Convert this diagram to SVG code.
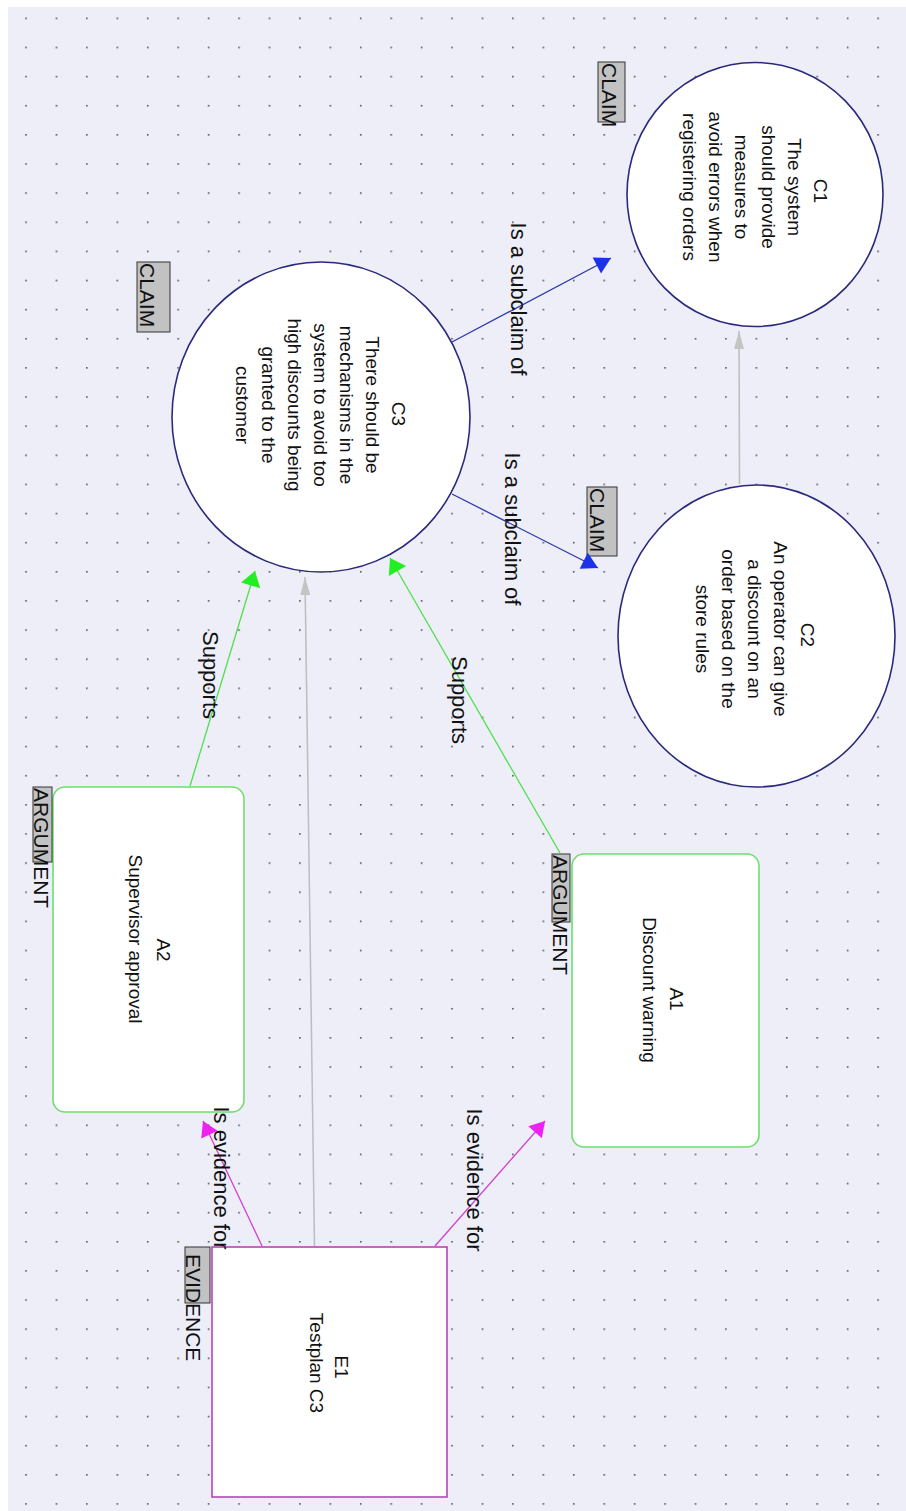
<svg xmlns="http://www.w3.org/2000/svg" width="906" height="1511" viewBox="0 0 906 1511">
<style>
.nt{font-family:"Liberation Sans",Arial,sans-serif;font-size:19px;fill:#111;text-anchor:middle}
.lt{font-family:"Liberation Sans",Arial,sans-serif;font-size:21px;fill:#111}
.ct{font-family:"Liberation Sans",Arial,sans-serif;font-size:22px;fill:#111;text-anchor:middle}
.claim{fill:#fff;stroke:#2a2a7c;stroke-width:1.6}
.arg{fill:#fff;stroke:#6ede6e;stroke-width:1.6}
.evi{fill:#fff;stroke:#b446b4;stroke-width:1.6}
.lbl{fill:#c2c2c2;stroke:#333;stroke-width:1}
.cb{stroke:#2c3aa8;stroke-width:1.3;fill:none;marker-end:url(#mb)}
.cg{stroke:#4ee04e;stroke-width:1.3;fill:none;marker-end:url(#mg)}
.cm{stroke:#d040d0;stroke-width:1.3;fill:none;marker-end:url(#mm)}
.cy{stroke:#bdbdbd;stroke-width:1.5;fill:none;marker-end:url(#my)}
</style>
<defs>
<pattern id="dots" x="25.2" y="17.5" width="30.43" height="29.13" patternUnits="userSpaceOnUse">
<rect width="1.6" height="1.6" fill="#555"/>
</pattern>
<marker id="mb" markerUnits="userSpaceOnUse" viewBox="-18 -11 20 22" markerWidth="20" markerHeight="22" refX="0" refY="0" orient="auto"><path d="M0,0 L-16,-9 L-16,9 Z" fill="#1a33e6"/></marker>
<marker id="mg" markerUnits="userSpaceOnUse" viewBox="-18 -11 20 22" markerWidth="20" markerHeight="22" refX="0" refY="0" orient="auto"><path d="M0,0 L-15,-10 L-15,10 Z" fill="#22ee22"/></marker>
<marker id="mm" markerUnits="userSpaceOnUse" viewBox="-18 -11 20 22" markerWidth="20" markerHeight="22" refX="0" refY="0" orient="auto"><path d="M0,0 L-15,-9 L-15,9 Z" fill="#ee22ee"/></marker>
<marker id="my" markerUnits="userSpaceOnUse" viewBox="-20 -7 22 14" markerWidth="22" markerHeight="14" refX="0" refY="0" orient="auto"><path d="M0,0 L-18,-5 L-18,5 Z" fill="#c4c4c4"/></marker>
</defs>
<rect x="0" y="0" width="906" height="1511" fill="#fff"/>
<rect x="8" y="7" width="898" height="1504" fill="#eeeef9"/>
<rect x="8" y="7" width="898" height="1504" fill="url(#dots)"/>

<g id="C1">
<ellipse class="claim" cx="755" cy="194.5" rx="128" ry="132"/>
<rect class="lbl" x="598" y="62" width="27" height="60"/>
<text class="lt" transform="translate(602,63) rotate(90)">CLAIM</text>
<text class="nt" transform="translate(814,187) rotate(90)"><tspan x="4" y="0">C1</tspan><tspan x="0" y="26.2">The system</tspan><tspan x="0" y="52.4">should provide</tspan><tspan x="0" y="78.6">measures to</tspan><tspan x="0" y="104.8">avoid errors when</tspan><tspan x="0" y="131">registering orders</tspan></text>
</g>

<g id="C3">
<ellipse class="claim" cx="321" cy="417" rx="149" ry="155"/>
<rect class="lbl" x="137" y="262" width="33" height="70"/>
<text class="lt" transform="translate(140,263) rotate(90)">CLAIM</text>
<text class="nt" transform="translate(392,405) rotate(90)"><tspan x="9" y="0">C3</tspan><tspan x="0" y="26">There should be</tspan><tspan x="0" y="52">mechanisms in the</tspan><tspan x="0" y="78">system to avoid too</tspan><tspan x="0" y="104">high discounts being</tspan><tspan x="0" y="130">granted to the</tspan><tspan x="0" y="156">customer</tspan></text>
</g>

<g id="C2">
<ellipse class="claim" cx="756.5" cy="636" rx="138.5" ry="151"/>
<rect class="lbl" x="587" y="487" width="30" height="69"/>
<text class="lt" transform="translate(590,488) rotate(90)">CLAIM</text>
<text class="nt" transform="translate(800.5,629) rotate(90)"><tspan x="6" y="0">C2</tspan><tspan x="0" y="26.2">An operator can give</tspan><tspan x="0" y="52.4">a discount on an</tspan><tspan x="0" y="78.6">order based on the</tspan><tspan x="0" y="104.8">store rules</tspan></text>
</g>

<g id="A1">
<rect class="arg" x="572" y="854" width="187" height="293" rx="12"/>
<rect class="lbl" x="552" y="854" width="18" height="68"/>
<text class="lt" transform="translate(553,855) rotate(90)">ARGUMENT</text>
<text class="nt" transform="translate(670,990) rotate(90)"><tspan x="9" y="0">A1</tspan><tspan x="0" y="26.7">Discount warning</tspan></text>
</g>

<g id="A2">
<rect class="arg" x="53" y="787" width="191" height="325" rx="12"/>
<rect class="lbl" x="33" y="787" width="19" height="75"/>
<text class="lt" transform="translate(34,788) rotate(90)">ARGUMENT</text>
<text class="nt" transform="translate(157,939) rotate(90)"><tspan x="11" y="0">A2</tspan><tspan x="0" y="28">Supervisor approval</tspan></text>
</g>

<g id="E1">
<rect class="evi" x="212" y="1247" width="235" height="250"/>
<rect class="lbl" x="185" y="1247" width="25" height="56"/>
<text class="lt" transform="translate(186,1254) rotate(90)">EVIDENCE</text>
<text class="nt" transform="translate(335.4,1363) rotate(90)"><tspan x="4" y="0">E1</tspan><tspan x="0" y="25">Testplan C3</tspan></text>
</g>

<g id="connectors">
<line class="cb" x1="452" y1="342" x2="611" y2="258"/>
<line class="cb" x1="452" y1="494" x2="598" y2="568"/>
<line class="cg" x1="560" y1="853" x2="390" y2="558"/>
<line class="cg" x1="190" y1="786" x2="255" y2="571"/>
<line class="cm" x1="262" y1="1246" x2="203" y2="1121"/>
<line class="cm" x1="435" y1="1246" x2="545" y2="1121"/>
<line class="cy" x1="314.5" y1="1246" x2="305" y2="577"/>
<line class="cy" x1="739.5" y1="484" x2="739" y2="331"/>
<text class="ct" transform="translate(511,299) rotate(90)">Is a subclaim of</text>
<text class="ct" transform="translate(505,529) rotate(90)">Is a subclaim of</text>
<text class="ct" transform="translate(203,675) rotate(90)">Supports</text>
<text class="ct" transform="translate(452,700) rotate(90)">Supports</text>
<text class="ct" transform="translate(214,1178) rotate(90)">Is evidence for</text>
<text class="ct" transform="translate(467,1180) rotate(90)">Is evidence for</text>
</g>
</svg>
